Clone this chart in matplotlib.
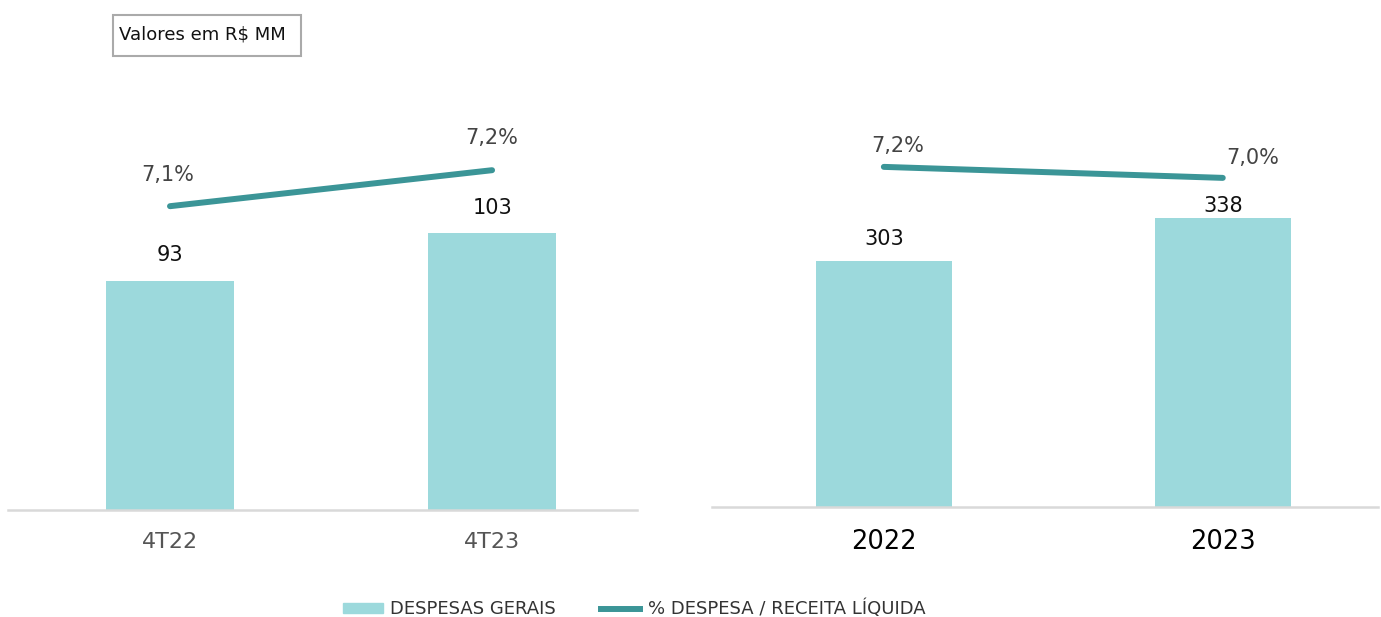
import matplotlib.pyplot as plt
from matplotlib.patches import Rectangle, Patch
from matplotlib.lines import Line2D

# dados
trimestres = ["4T22", "4T23"]
despesas_tri = [93, 103]
pct_tri = [7.1, 7.2]
pct_tri_txt = ["7,1%", "7,2%"]

anos = ["2022", "2023"]
despesas_ano = [303, 338]
pct_ano = [7.2, 7.0]
pct_ano_txt = ["7,2%", "7,0%"]

cor_barra = "#9cd9dc"
cor_linha = "#3b9597"
plt.rcParams['font.family'] = ['DejaVu Sans']

W, H = 1381, 617
fig = plt.figure(figsize=(W / 100, H / 100), dpi=100)


def fx(px):
    return px / W


def fy(py):
    return 1 - py / H


def painel(x0, x1, base, cats, vals, ylim_b, pcts, pct_txt, ylim_l, xlim,
           tick_cor, tick_size, off_val, off_pct):
    ax = fig.add_axes([fx(x0), fy(base), fx(x1 - x0), 410 / H])
    xs = range(len(cats))
    ax.bar(xs, vals, width=0.40, color=cor_barra, zorder=2)
    ax.set_ylim(*ylim_b)
    ax.set_xlim(*xlim)
    for s in ["top", "right", "left"]:
        ax.spines[s].set_visible(False)
    ax.spines["bottom"].set_color("#d9d9d9")
    ax.spines["bottom"].set_linewidth(1.8)
    ax.set_yticks([])
    ax.set_xticks(list(xs))
    ax.set_xticklabels(cats, fontsize=tick_size, color=tick_cor)
    ax.tick_params(axis="x", length=0, pad=16)
    for x, v, o in zip(xs, vals, off_val):
        ax.annotate(str(v), (x, v), xytext=(0, o), textcoords="offset pixels",
                    ha="center", va="center", fontsize=15, color="#111111")
    ax2 = ax.twinx()
    ax2.plot(list(xs), pcts, color=cor_linha, lw=4.3, solid_capstyle="round")
    ax2.set_ylim(*ylim_l)
    ax2.set_yticks([])
    for s in ["top", "right", "left", "bottom"]:
        ax2.spines[s].set_visible(False)
    for x, p, t, o in zip(xs, pcts, pct_txt, off_pct):
        ax2.annotate(t, (x, p), xytext=o, textcoords="offset pixels",
                     ha="center", va="center", fontsize=15, color="#444444")
    return ax


painel(8, 637, 510, trimestres, despesas_tri, (45.3, 130.7),
       pct_tri, pct_tri_txt, (6.256, 7.395), (-0.503, 1.450),
       "#555555", 16, [26, 25], [(-2, 31), (0, 32)])
painel(712, 1378, 507, anos, despesas_ano, (103, 436.6),
       pct_ano, pct_ano_txt, (1.018, 8.47), (-0.507, 1.458),
       "#000000", 18.5, [22, 12], [(14, 21), (30, 20)])

# caixa "Valores em R$ MM"
fig.patches.append(Rectangle((fx(113), fy(56)), fx(188), 41 / H,
                             transform=fig.transFigure, fill=False,
                             edgecolor="#aaaaaa", lw=1.5))
fig.text(fx(119), fy(34), "Valores em R$ MM", fontsize=13,
         va="center", ha="left", color="#111111")

# legenda
handles = [Patch(color=cor_barra, label="DESPESAS GERAIS"),
           Line2D([], [], color=cor_linha, lw=4.3, label="% DESPESA / RECEITA LÍQUIDA")]
fig.legend(handles=handles, loc="center", bbox_to_anchor=(fx(634), fy(609)),
           ncol=2, frameon=False, fontsize=13, handlelength=2.2,
           handletextpad=0.4, columnspacing=2.5, handleheight=0.45,
           labelcolor="#333333")

fig.savefig("out.png", dpi=100)
